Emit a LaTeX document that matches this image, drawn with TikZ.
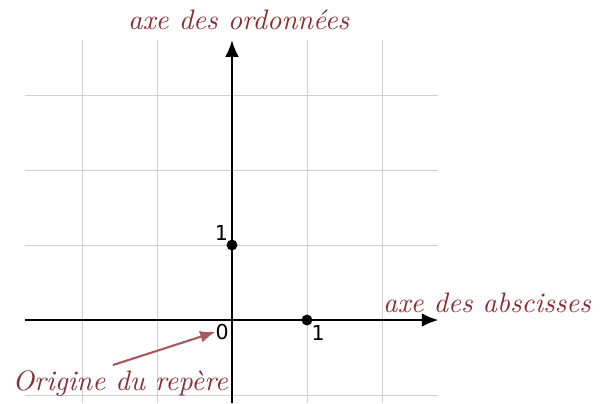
\documentclass[tikz,border=0pt]{standalone}
\usepackage{fontspec}
\newfontfamily\numfont{DejaVu Sans}
\usepackage{xcolor}
\usetikzlibrary{arrows.meta,positioning,calc}

\definecolor{labred}{HTML}{8B2E33}
\definecolor{arrred}{HTML}{A65A5C}

\begin{document}
\begin{tikzpicture}[
  gridline/.style={draw=black!19, line width=0.35pt},
  axis/.style={-{Latex[length=2.2mm,width=1.8mm]}, line width=0.6pt},
  lbl/.style={text=labred, font=\fontsize{10.7}{13}\selectfont\itshape, inner sep=0pt},
  num/.style={font=\numfont\fontsize{7.8}{9}\selectfont, inner sep=0pt},
  pt/.style={circle, fill=black, inner sep=0pt, minimum size=1.45mm},
  arr/.style={-{Latex[length=2mm,width=1.6mm]}, draw=arrred, line width=0.8pt},
]
\useasboundingbox (-3.093,-1.107) rectangle (4.933,4.267);

% Grid
\foreach \x in {-2,-1,1,2}
  \draw[gridline] (\x,-1.107) -- (\x,3.73);
\foreach \y in {-1,1,2,3}
  \draw[gridline] (-2.76,\y) -- (2.75,\y);

% Axes
\coordinate (xa) at (-2.76,0);
\coordinate (xb) at (2.75,0);
\coordinate (ya) at (0,-1.107);
\coordinate (yb) at (0,3.73);
\draw[axis] (xa) -- (xb);
\draw[axis] (ya) -- (yb);

% Points
\node[pt] (p1) at (1,0) {};
\node[pt] (p2) at (0,1) {};
\node[num] (o) at (-0.13,-0.16) {0};
\node[num] (n1) at (1.15,-0.17) {1};
\node[num] (n2) at (-0.14,1.16) {1};

% Labels
\node[lbl] (yl) at (0.09,4.0) {axe des ordonnées};
\node[lbl] (xl) at (3.40,0.23) {axe des abscisses};
\node[lbl] (orl) at (-1.49,-0.85) {Origine du repère};

\coordinate (os) at (-1.587,-0.6);
\draw[arr] (os) -- (o.west);

\end{tikzpicture}
\end{document}
